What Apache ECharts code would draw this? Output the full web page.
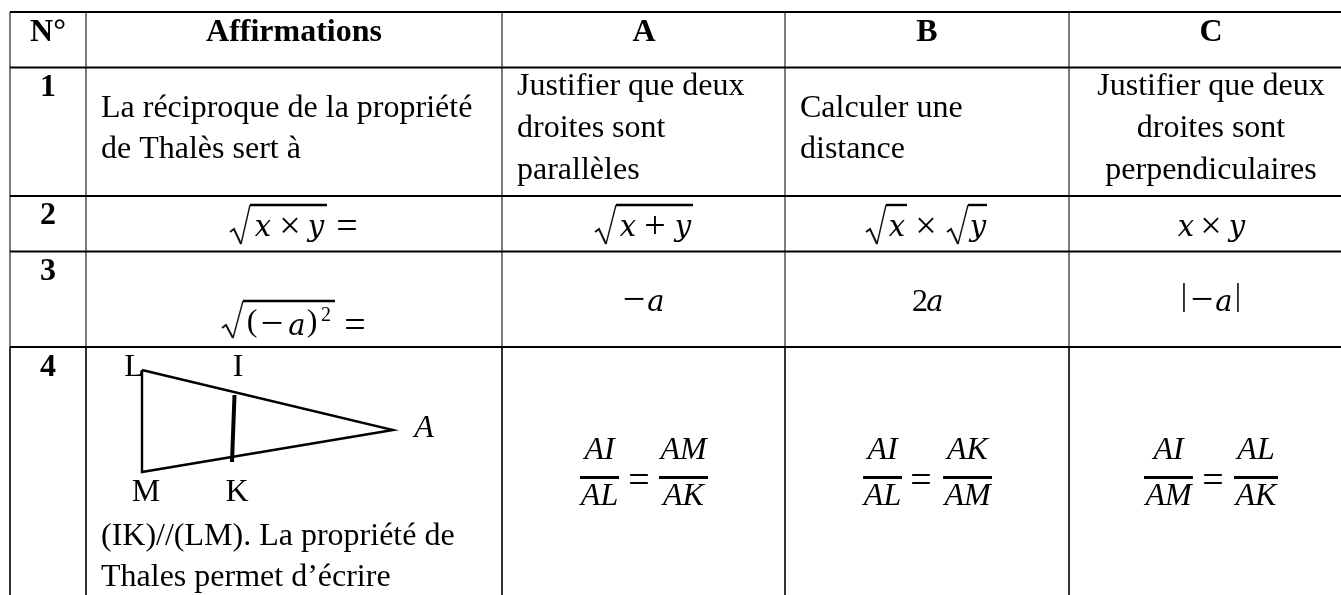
<!DOCTYPE html>
<html>
<head>
<meta charset="utf-8">
<style>
	html, body { margin: 0; padding: 0; background: #fff; }
	#tableChart { width: 1341px; height: 595px; }
</style>
<script src="https://cdn.jsdelivr.net/npm/echarts@6/dist/echarts.min.js"></script>
</head>
<body>
<div id="tableChart"></div>
<script>
	// table content
	const headers = ['N°', 'Affirmations', 'A', 'B', 'C']
	const numbers = ['1', '2', '3', '4']
	const affirmation1 = ['La réciproque de la propriété', 'de Thalès sert à']
	const affirmation4 = ['(IK)//(LM). La propriété de', 'Thales permet d’écrire']
	const choice1A = ['Justifier que deux', 'droites sont', 'parallèles']
	const choice1B = ['Calculer une', 'distance']
	const choice1C = ['Justifier que deux', 'droites sont', 'perpendiculaires']
	const figureLabels = ['L', 'I', 'A', 'M', 'K']
	const fractions = [['AI', 'AL', 'AM', 'AK'], ['AI', 'AL', 'AK', 'AM'], ['AI', 'AM', 'AL', 'AK']]

	// layout, in page pixels
	const colEdges = [10, 86, 502, 785, 1069]
	const rowEdges = [12, 67.5, 196, 251.5, 347]
	const headerCenters = [48, 294, 644, 927, 1211]
	const numberBaselines = [98, 226, 282, 378]
	const FS = 32
	const serif = '"Liberation Serif", serif'
	const mathSerif = '"DejaVu Serif", serif'

	const items = []
	const line = (pts, w, c) => items.push({ k: 'line', pts, w, c: c || '#000' })
	const text = (s, x, y, o) => items.push(Object.assign({ k: 'text', s, x, y, size: FS, weight: 'normal', italic: false, align: 'left', font: serif, drop: 0.33 }, o))
	const mid = (s, x, y, size) => text(s, x, y, { align: 'center', size: size || FS })
	const ital = (s, x, y, size) => text(s, x, y, { align: 'center', italic: true, size: size || FS })
	// operators are wider in the reference than in the text font
	const op = (s, x, y) => text(s, x, y, { align: 'center', size: 38, drop: 0.16 })
	const minus = (x, y) => text('−', x, y, { align: 'center', size: 40, drop: 0.2 })
	// small math letters (a, x, y)
	const mathVar = (s, x, y) => text(s, x, y, { align: 'center', italic: true, size: 29, font: mathSerif, drop: 0.18 })
	const radical = (x0, x1, x2, top, bottom) => {
		line([[x0, top + 27], [x0 + 4, top + 24], [x0 + 11, bottom]], 2, '#111')
		line([[x0 + 11, bottom], [x1, top]], 1.4, '#111')
		line([[x1, top], [x2, top]], 2.4, '#000')
	}

	// grid lines
	colEdges.forEach((x) => {
		line([[x, rowEdges[0]], [x, rowEdges[4]]], 1.4, '#444')
		line([[x, rowEdges[4]], [x, 595]], 1.6, '#000')
	})
	rowEdges.forEach((y) => line([[10, y], [1341, y]], 2, '#000'))

	// header and row numbers
	headers.forEach((h, i) => text(h, headerCenters[i], 43, { align: 'center', weight: 'bold' }))
	numbers.forEach((n, i) => text(n, 48, numberBaselines[i], { align: 'center', weight: 'bold' }))

	// plain text cells
	affirmation1.forEach((s, i) => text(s, 101, 119 + i * 41, {}))
	affirmation4.forEach((s, i) => text(s, 101, 547 + i * 41, {}))
	choice1A.forEach((s, i) => text(s, 517, 97 + i * 42, {}))
	choice1B.forEach((s, i) => text(s, 800, 119 + i * 41, {}))
	choice1C.forEach((s, i) => mid(s, 1211, 97 + i * 42))

	// row 2 formulas
	radical(230, 250, 327, 205, 244)
	mathVar('x', 263, 234); op('×', 290, 234); mathVar('y', 316, 234); op('=', 347, 234)
	radical(595, 616, 693, 205, 244)
	mathVar('x', 628, 234); op('+', 655, 234); mathVar('y', 683, 234)
	radical(866, 886, 907, 205, 244)
	mathVar('x', 897, 234); op('×', 926, 234)
	radical(947, 968, 987, 205, 244)
	mathVar('y', 978, 234)
	mathVar('x', 1186, 234); op('×', 1211, 234); mathVar('y', 1237, 234)

	// row 3 formulas
	radical(222, 243, 335, 301, 338)
	mid('(', 252, 333); minus(272, 333); mathVar('a', 297, 333); mid(')', 312, 333); mid('2', 326, 322, 20); op('=', 355, 333)
	minus(634, 309); mathVar('a', 656, 309)
	mid('2', 920, 313); mathVar('a', 935, 309)
	mid('|', 1184, 307); minus(1202, 309); mathVar('a', 1224, 309); mid('|', 1238, 307)

	// triangle
	line([[142, 370], [393, 430], [142, 472], [142, 370]], 2.4, '#000')
	line([[234.5, 395], [232, 462]], 4, '#000')
	const labelPos = [[134, 378], [238, 378], [424, 439], [146, 503], [237, 503]]
	figureLabels.forEach((s, i) => text(s, labelPos[i][0], labelPos[i][1], { align: 'center', italic: s === 'A' }))

	// row 4 fractions
	const fracPos = [[580, 619, 639, 659, 708], [863, 902, 921, 943, 992], [1144, 1193, 1213, 1234, 1278]]
	fractions.forEach((f, i) => {
		const p = fracPos[i]
		const c1 = (p[0] + p[1]) / 2
		const c2 = (p[3] + p[4]) / 2
		ital(f[0], c1, 461); ital(f[1], c1, 507)
		line([[p[0], 477.5], [p[1], 477.5]], 2.8, '#000')
		op('=', p[2], 488)
		ital(f[2], c2, 461); ital(f[3], c2, 507)
		line([[p[3], 477.5], [p[4], 477.5]], 2.8, '#000')
	})

	const myChart = echarts.init(document.getElementById('tableChart'), null, { renderer: 'canvas' })
	const renderItem = (params, api) => {
		const it = items[api.value(0)]
		if (it.k === 'line') {
			const pts = it.pts.map((p) => api.coord(p))
			return {
				type: 'polyline',
				shape: { points: pts },
				style: { fill: 'none', stroke: it.c, lineWidth: it.w, lineJoin: 'miter' }
			}
		}
		const pos = api.coord([it.x, it.y])
		return {
			type: 'text',
			style: {
				x: pos[0],
				// labels are placed by their baseline, zrender centres them on the middle
				y: pos[1] - it.size * it.drop,
				text: it.s,
				fill: '#000',
				align: it.align,
				verticalAlign: 'middle',
				font: (it.italic ? 'italic ' : '') + it.weight + ' ' + it.size + 'px ' + it.font
			}
		}
	}
	myChart.setOption({
		animation: false,
		backgroundColor: '#fff',
		grid: { left: 0, right: 0, top: 0, bottom: 0 },
		xAxis: { type: 'value', min: 0, max: 1341, show: false },
		yAxis: { type: 'value', min: 0, max: 595, inverse: true, show: false },
		series: [{
			type: 'custom',
			silent: true,
			clip: false,
			renderItem,
			data: items.map((it, i) => [i])
		}]
	})
</script>
</body>
</html>
